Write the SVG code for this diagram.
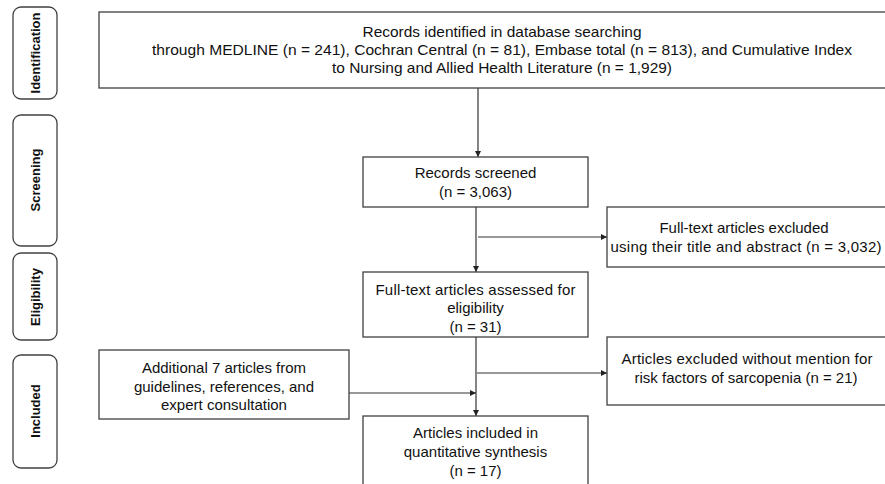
<svg xmlns="http://www.w3.org/2000/svg" width="885" height="484" viewBox="0 0 885 484">
<style>
.box{fill:#fff;stroke:#404040;stroke-width:1.3}
.stage{fill:#fff;stroke:#404040;stroke-width:1.3}
.t{font-family:"Liberation Sans",Arial,sans-serif;font-size:15px;fill:#111;text-anchor:middle}
.t14{font-family:"Liberation Sans",Arial,sans-serif;font-size:15px;fill:#111;text-anchor:middle}
.st{font-family:"Liberation Sans",Arial,sans-serif;font-size:13px;font-weight:bold;fill:#111;text-anchor:middle}
.c{stroke:#333;stroke-width:1.2;fill:none;marker-end:url(#ah)}
</style>
<defs>
<marker id="ah" viewBox="0 0 8 8" refX="8" refY="4" markerWidth="6" markerHeight="6" markerUnits="userSpaceOnUse" orient="auto">
<path d="M0,0 L8,4 L0,8 z" fill="#222"/>
</marker>
</defs>
<rect width="885" height="484" fill="#fff"/>
<g id="stage-identification">
<rect class="stage" x="13" y="7" width="44" height="92" rx="8"/>
<text class="st" transform="translate(40,53) rotate(-90)">Identification</text>
</g>
<g id="stage-screening">
<rect class="stage" x="13" y="115" width="44" height="131" rx="8"/>
<text class="st" transform="translate(40,180) rotate(-90)">Screening</text>
</g>
<g id="stage-eligibility">
<rect class="stage" x="13" y="253" width="44" height="87" rx="8"/>
<text class="st" transform="translate(40,297) rotate(-90)">Eligibility</text>
</g>
<g id="stage-included">
<rect class="stage" x="13" y="355" width="44" height="113" rx="8"/>
<text class="st" transform="translate(40,411) rotate(-90)">Included</text>
</g>
<g id="connectors">
<line class="c" x1="478" y1="88" x2="478" y2="157"/>
<line class="c" x1="476" y1="207" x2="476" y2="272"/>
<line class="c" x1="478" y1="237" x2="607" y2="237"/>
<line class="c" x1="476" y1="337" x2="476" y2="416"/>
<line class="c" x1="477" y1="373" x2="607" y2="373"/>
<line class="c" x1="349" y1="393" x2="476" y2="393"/>
</g>
<g id="identified">
<rect class="box" x="99" y="12" width="795" height="76"/>
<text class="t14" x="502" y="37" textLength="279" lengthAdjust="spacingAndGlyphs">Records identified in database searching</text>
<text class="t14" x="502" y="55" textLength="700" lengthAdjust="spacingAndGlyphs">through MEDLINE  (n = 241), Cochran Central (n = 81),  Embase total (n = 813), and Cumulative Index</text>
<text class="t14" x="502" y="73" textLength="340" lengthAdjust="spacingAndGlyphs">to Nursing and Allied Health Literature (n = 1,929)</text>
</g>
<g id="screened">
<rect class="box" x="363" y="157" width="225" height="50"/>
<text class="t" x="475.5" y="178">Records screened</text>
<text class="t" x="475.5" y="197">(n = 3,063)</text>
</g>
<g id="excluded-title">
<rect class="box" x="607" y="207" width="290" height="60"/>
<text class="t" x="744" y="233">Full-text  articles excluded</text>
<text class="t" x="746" y="252" textLength="271" lengthAdjust="spacing">using their title and abstract (n = 3,032)</text>
</g>
<g id="assessed">
<rect class="box" x="363" y="272" width="225" height="65"/>
<text class="t" x="475.5" y="295" textLength="200" lengthAdjust="spacing">Full-text  articles assessed for</text>
<text class="t" x="475.5" y="313">eligibility</text>
<text class="t" x="475.5" y="332">(n = 31)</text>
</g>
<g id="additional">
<rect class="box" x="99" y="350" width="250" height="69"/>
<text class="t" x="224" y="373">Additional  7 articles from</text>
<text class="t" x="224" y="392">guidelines,  references, and</text>
<text class="t" x="224" y="410">expert consultation</text>
</g>
<g id="excluded-risk">
<rect class="box" x="607" y="337" width="290" height="68"/>
<text class="t" x="747" y="364" textLength="251" lengthAdjust="spacing">Articles excluded without mention for</text>
<text class="t" x="746" y="383">risk factors of sarcopenia (n = 21)</text>
</g>
<g id="included">
<rect class="box" x="363" y="416" width="225" height="80"/>
<text class="t" x="475.5" y="438">Articles included  in</text>
<text class="t" x="475.5" y="457">quantitative synthesis</text>
<text class="t" x="475.5" y="476">(n = 17)</text>
</g>
</svg>
